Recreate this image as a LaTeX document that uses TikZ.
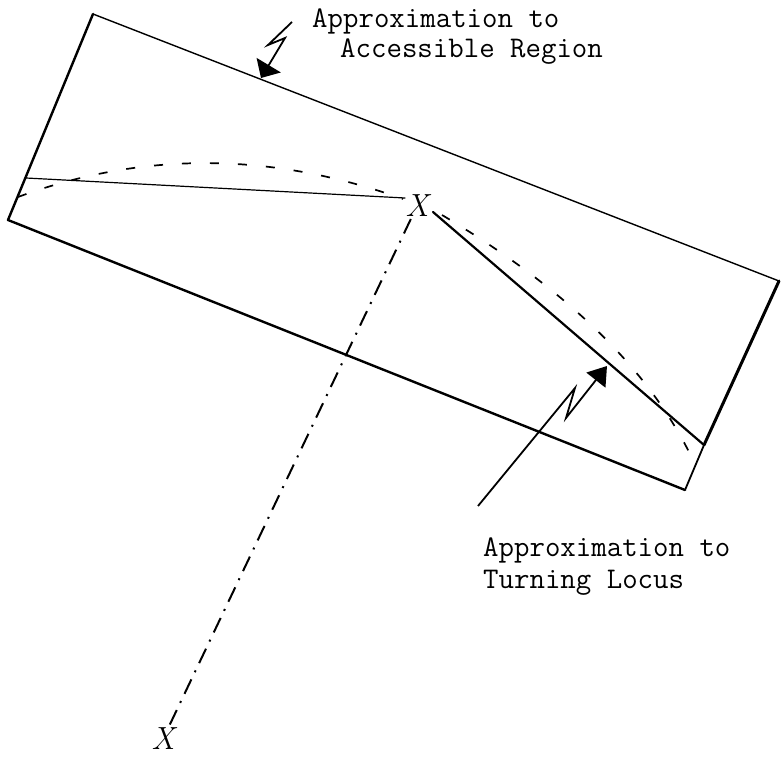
\documentclass[tikz,border=0pt]{standalone}
\usepackage{fontspec}
\usetikzlibrary{arrows.meta}
\begin{document}
\begin{tikzpicture}[x=1pt,y=-1pt,
  boxline/.style={line width=2.4pt, line cap=round, line join=round},
  faintline/.style={line width=1.2pt, line cap=round},
  solidline/.style={line width=2.2pt, line cap=round},
  curvedash/.style={line width=1.7pt, dash pattern=on 9pt off 19pt},
  axisline/.style={line width=2pt, dash pattern=on 16pt off 8pt on 2pt off 8pt},
  bolt/.style={line width=1.8pt, line join=miter},
  note/.style={font=\ttfamily\fontsize{30}{32}\selectfont, anchor=base west, inner sep=0pt},
  xmark/.style={font=\itshape\fontsize{32}{32}\selectfont, inner sep=1pt}
]
\useasboundingbox (0,0) rectangle (784,757);

% corners of the accessible region
\coordinate (TL) at (93,14);
\coordinate (TR) at (779,281);
\coordinate (J)  at (704,445);
\coordinate (BR) at (685,490);
\coordinate (BL) at (8,220);

% region outline
\draw[line width=1.4pt] (TL) -- (TR);
\draw[line width=3pt, line cap=round] (TR) -- (J);
\draw[line width=1.8pt] (J) -- (BR);
\draw[boxline] (BR) -- (BL) -- (TL);

% turning points
\node[xmark] (X1) at (417,206) {X};
\node[xmark] (X2) at (163,739) {X};

% approximation lines
\coordinate (L1) at (26,178);
\coordinate (XA) at (405,198);
\coordinate (XB) at (433,212);
\draw[faintline] (L1) -- (XA);
\draw[solidline] (XB) -- (J);

% dashed turning locus
\coordinate (L2) at (18,197);
\coordinate (XC) at (403,199);
\coordinate (XD) at (442,215);
\coordinate (R2) at (692,458);
\draw[curvedash] (L2) .. controls (143,151) and (272,152) .. (XC);
\draw[curvedash] (XD) .. controls (565,288) and (649,369) .. (R2);

% dash-dot axis between the two X marks
\draw[axisline, shorten <=1pt, shorten >=1pt] (X1) -- (X2);

% upper lightning arrow
\coordinate (A1) at (292,22);
\coordinate (A2) at (268,45);
\coordinate (A3) at (285,38);
\coordinate (A5) at (261,78);
\draw[bolt, -{Triangle[length=15pt,width=28pt]}] (A1) -- (A2) -- (A3) -- (A5);

% lower lightning arrow
\coordinate (B1) at (478,506);
\coordinate (B2) at (575,388);
\coordinate (B3) at (566,418);
\coordinate (B4) at (607,366);
\draw[bolt, -{Triangle[length=18pt,width=24pt]}] (B1) -- (B2) -- (B3) -- (B4);

% labels
\node[note] (T1) at (312,28) {Approximation to};
\node[note] (T2) at (340,58) {Accessible Region};
\node[note] (T3) at (483,556) {Approximation to};
\node[note] (T4) at (483,588) {Turning Locus};
\end{tikzpicture}
\end{document}
